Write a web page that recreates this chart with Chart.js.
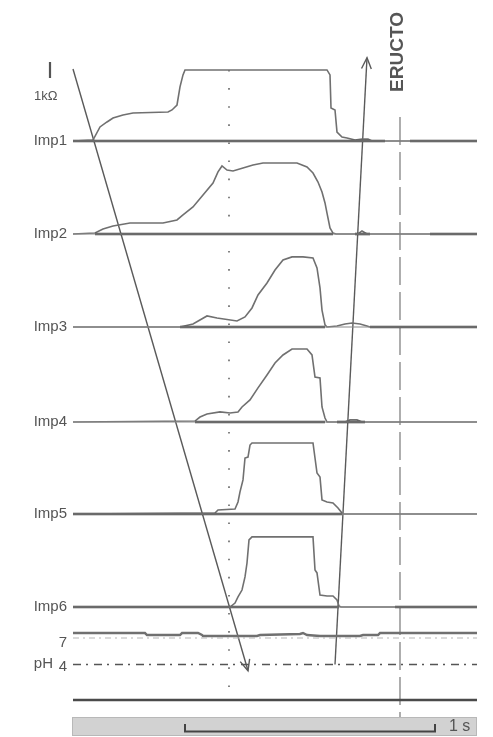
<!DOCTYPE html>
<html>
<head>
<meta charset="utf-8">
<script src="https://cdn.jsdelivr.net/npm/chart.js@4/dist/chart.umd.min.js"></script>
<style>
  html, body { margin: 0; padding: 0; background: #fff; }
  #trace { display: block; }
</style>
</head>
<body>
<canvas id="trace" width="493" height="737"></canvas>
<script>
// time in ms (0 = start of the tracing), impedance in kOhm above each channel baseline
const channels = ['Imp1', 'Imp2', 'Imp3', 'Imp4', 'Imp5', 'Imp6'];

const imp1Time = [0, 80, 108, 136, 160, 200, 240, 380, 396, 416, 428, 440, 448, 1016, 1028, 1032, 1048, 1056, 1076, 1096, 1128, 1156, 1180, 1196, 1616];
const imp1Kohm = [0, 0.06, 0.88, 1.19, 1.44, 1.63, 1.75, 1.81, 1.94, 2.25, 3.38, 4.13, 4.44, 4.44, 4.13, 2.06, 1.94, 0.56, 0.25, 0.19, 0.06, 0.12, 0.12, 0, 0];

const imp2Time = [0, 88, 120, 160, 228, 360, 416, 440, 480, 520, 560, 580, 596, 616, 640, 680, 720, 760, 896, 936, 960, 980, 996, 1008, 1016, 1028, 1040, 1052, 1140, 1156, 1176, 1616];
const imp2Kohm = [0, 0.06, 0.31, 0.5, 0.69, 0.69, 0.88, 1.19, 1.69, 2.44, 3.19, 3.88, 4.25, 4.0, 3.94, 4.13, 4.31, 4.44, 4.44, 4.19, 3.81, 3.25, 2.63, 1.94, 1.31, 0.38, 0.06, 0, 0, 0.19, 0, 0];

const imp3Time = [0, 428, 480, 536, 576, 656, 688, 716, 740, 776, 808, 840, 876, 920, 960, 976, 988, 996, 1008, 1016, 1056, 1088, 1116, 1148, 1176, 1188, 1616];
const imp3Kohm = [0, 0, 0.19, 0.69, 0.56, 0.38, 0.63, 1.19, 2.0, 2.75, 3.56, 4.19, 4.38, 4.38, 4.31, 3.69, 2.44, 1.06, 0.13, 0, 0.06, 0.19, 0.25, 0.19, 0.06, 0, 0];

const imp4Time = [0, 488, 508, 536, 588, 628, 660, 676, 708, 740, 776, 808, 840, 876, 936, 956, 968, 988, 996, 1008, 1016, 1088, 1108, 1136, 1156, 1616];
const imp4Kohm = [0, 0.06, 0.31, 0.5, 0.63, 0.56, 0.63, 0.94, 1.38, 2.13, 2.94, 3.69, 4.19, 4.56, 4.56, 4.19, 2.81, 2.75, 0.94, 0.25, 0, 0, 0.13, 0.13, 0, 0];

const imp5Time = [0, 568, 580, 648, 660, 668, 680, 688, 700, 708, 716, 960, 968, 976, 988, 996, 1016, 1040, 1060, 1076, 1084, 1616];
const imp5Kohm = [0, 0.06, 0.25, 0.31, 0.75, 1.38, 2.13, 3.5, 3.56, 4.31, 4.44, 4.44, 3.5, 2.56, 2.31, 0.88, 0.75, 0.69, 0.38, 0.06, 0, 0];

const imp6Time = [0, 628, 648, 660, 676, 688, 696, 704, 716, 960, 968, 976, 988, 1016, 1040, 1056, 1064, 1072, 1616];
const imp6Kohm = [0, 0, 0.25, 0.63, 1.06, 1.88, 2.75, 4.19, 4.38, 4.38, 2.31, 2.13, 0.75, 0.69, 0.69, 0.44, 0.06, 0, 0];

const phTime = [0, 288, 296, 428, 436, 500, 516, 520, 736, 748, 908, 920, 936, 988, 1148, 1160, 1220, 1228, 1616];
const phValue = [7.56, 7.56, 7.34, 7.34, 7.56, 7.56, 7.34, 7.23, 7.23, 7.34, 7.45, 7.56, 7.34, 7.23, 7.23, 7.34, 7.34, 7.56, 7.56];

// stretches where the baseline is drawn heavy, [from ms, to ms]
const heavyBase = [
  [[0, 1248], [1348, 1616]],
  [[88, 1040], [1128, 1188], [1428, 1616]],
  [[428, 1008], [1188, 1616]],
  [[488, 1008], [1056, 1168]],
  [[0, 1076]],
  [[0, 1064], [1288, 1616]]
];

const phRefs = [7, 4];
const swallowTime = 624;   // dotted marker
const belchTime = 1308;    // ERUCTO marker
const scaleBarMs = [448, 1448];  // 1 s

// arrows: [time, kOhm above Imp1] -> [time, pH]
const arrowDown = { from: [0, 4.5], to: [700, 3.3] };
const arrowUp = { from: [1048, 4.0], to: [1176, 5.2] };

// layout (figure pixels)
const BASE = [141, 234, 327, 422, 514, 607];
const PX_PER_KOHM = 16;
const phY = v => 700 - v * 62 / 7;
const impY = (ch, k) => BASE[ch] - k * PX_PER_KOHM;
const END = 1616;

const traceColor = '#707070';
const heavyColor = '#4a4a4a';
const thinColor = '#8a8a8a';

const ds = [];
const line = (pts, color, width, dash, extra) => ds.push(Object.assign({
  data: pts, borderColor: color, borderWidth: width, borderDash: dash || [],
  pointRadius: 0, fill: false, tension: 0
}, extra || {}));

// thin full baselines
BASE.forEach((b, ch) => line([{ x: 0, y: b }, { x: END, y: b }], thinColor, 1.2));
// heavy stretches
heavyBase.forEach((segs, ch) => segs.forEach(s =>
  line([{ x: s[0], y: BASE[ch] }, { x: s[1], y: BASE[ch] }], heavyColor, 2.6)));

const impT = [imp1Time, imp2Time, imp3Time, imp4Time, imp5Time, imp6Time];
const impV = [imp1Kohm, imp2Kohm, imp3Kohm, imp4Kohm, imp5Kohm, imp6Kohm];
impT.forEach((times, ch) => line(times.map((t, i) => ({ x: t, y: impY(ch, impV[ch][i]) })), traceColor, 1.6));

// pH reference lines and frame line
line([{ x: 0, y: phY(phRefs[0]) }, { x: END, y: phY(phRefs[0]) }], '#b5b5b5', 1, [6, 4, 2, 4]);
line([{ x: 0, y: phY(phRefs[1]) }, { x: END, y: phY(phRefs[1]) }], '#555', 1.6, [8, 5, 2, 6]);
line([{ x: 0, y: phY(0) }, { x: END, y: phY(0) }], heavyColor, 2.6);
// pH trace
line(phTime.map((t, i) => ({ x: t, y: phY(phValue[i]) })), '#707070', 2.4);

// markers
line([{ x: swallowTime, y: 70 }, { x: swallowTime, y: 692 }], '#777', 1.8, [1.6, 16.5]);
line([{ x: belchTime, y: 117 }, { x: belchTime, y: 717 }], '#8c8c8c', 1.4, [28, 7]);

// arrows
const aD = [{ x: arrowDown.from[0], y: impY(0, arrowDown.from[1]) }, { x: arrowDown.to[0], y: phY(arrowDown.to[1]) }];
const aU = [{ x: arrowUp.from[0], y: phY(arrowUp.from[1]) }, { x: arrowUp.to[0], y: impY(0, arrowUp.to[1]) }];
line(aD, '#5a5a5a', 1.4);
line(aU, '#5a5a5a', 1.4);

const figure = {
  id: 'figure',
  beforeDatasetsDraw(chart) {
    const { ctx, scales: { x, y } } = chart;
    ctx.save();
    ctx.fillStyle = '#fff';
    ctx.fillRect(0, 0, chart.width, chart.height);
    // time bar
    const x0 = x.getPixelForValue(-4), x1 = x.getPixelForValue(END);
    ctx.fillStyle = '#d2d2d2';
    ctx.fillRect(x0, 717, x1 - x0, 19);
    ctx.strokeStyle = '#b8b8b8';
    ctx.lineWidth = 1;
    ctx.strokeRect(x0 + 0.5, 717.5, x1 - x0 - 1, 18);
    ctx.restore();
  },
  afterDatasetsDraw(chart) {
    const { ctx, scales: { x, y } } = chart;
    ctx.save();
    // arrowheads
    const head = (p, q) => {
      const px = x.getPixelForValue(q.x), py = y.getPixelForValue(q.y);
      const ox = x.getPixelForValue(p.x), oy = y.getPixelForValue(p.y);
      const a = Math.atan2(py - oy, px - ox);
      ctx.beginPath();
      ctx.moveTo(px - 12 * Math.cos(a - 0.42), py - 12 * Math.sin(a - 0.42));
      ctx.lineTo(px, py);
      ctx.lineTo(px - 12 * Math.cos(a + 0.42), py - 12 * Math.sin(a + 0.42));
      ctx.strokeStyle = '#5a5a5a';
      ctx.lineWidth = 1.4;
      ctx.stroke();
    };
    head(aD[0], aD[1]);
    head(aU[0], aU[1]);

    // scale bracket
    const b0 = x.getPixelForValue(scaleBarMs[0]), b1 = x.getPixelForValue(scaleBarMs[1]);
    ctx.beginPath();
    ctx.moveTo(b0, 724); ctx.lineTo(b0, 731.5); ctx.lineTo(b1, 731.5); ctx.lineTo(b1, 724);
    ctx.strokeStyle = '#444'; ctx.lineWidth = 2; ctx.stroke();

    ctx.fillStyle = '#555';
    ctx.textBaseline = 'middle';
    ctx.font = '16px "Liberation Sans", Arial, sans-serif';
    ctx.textAlign = 'left';
    ctx.fillText('1 s', 449, 727);

    ctx.font = '15px "Liberation Sans", Arial, sans-serif';
    ctx.textAlign = 'right';
    channels.forEach((c, i) => ctx.fillText(c, 67, BASE[i]));
    ctx.fillText('7', 67, 643);
    ctx.fillText('4', 67, 667);
    ctx.fillText('pH', 53, 664);
    ctx.font = '13px "Liberation Sans", Arial, sans-serif';
    ctx.textAlign = 'left';
    ctx.fillText('1k\u03A9', 34, 96);

    // 1 kOhm bar
    ctx.beginPath();
    ctx.moveTo(50, 62); ctx.lineTo(50, 78);
    ctx.strokeStyle = '#555'; ctx.lineWidth = 2.2; ctx.stroke();

    // ERUCTO label
    ctx.translate(x.getPixelForValue(belchTime) - 2, 52);
    ctx.rotate(-Math.PI / 2);
    ctx.textAlign = 'center';
    ctx.font = 'bold 19px "Liberation Sans", Arial, sans-serif';
    ctx.fillStyle = '#555';
    ctx.fillText('ERUCTO', 0, 0);
    ctx.restore();
  }
};

new Chart(document.getElementById('trace'), {
  type: 'line',
  data: { datasets: ds },
  options: {
    responsive: false,
    animation: false,
    devicePixelRatio: 1,
    layout: { padding: 0 },
    plugins: { legend: { display: false }, tooltip: { enabled: false } },
    scales: {
      x: { type: 'linear', min: -292, max: 1680, display: false },
      y: { type: 'linear', min: 0, max: 737, reverse: true, display: false }
    }
  },
  plugins: [figure]
});
</script>
</body>
</html>
